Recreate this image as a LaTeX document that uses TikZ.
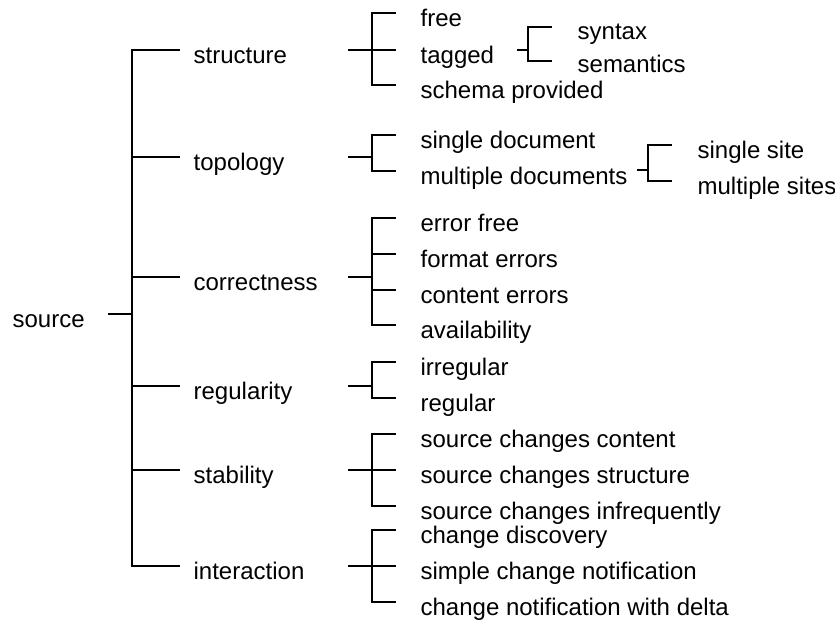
\documentclass[tikz,border=0pt]{standalone}
\usepackage{fontspec}
\setmainfont{Liberation Sans}
\begin{document}
\begin{tikzpicture}[x=1pt, y=-1pt, line width=1.3pt,
    lbl/.style={anchor=west, inner xsep=0pt, inner ysep=0pt, text height=30pt, text depth=4pt, font=\fontsize{24}{28}\selectfont}]
    \useasboundingbox (0,0) rectangle (835,621);
    % root
    \node [lbl] (source) at (12,314) {source};
    \coordinate (s-src) at (108,314);
    \coordinate (j-src) at (132,314);
    \draw (s-src) -- (j-src);
    % first level
    \node [lbl] (structure) at (193,50) {structure};
    \node [lbl] (topology) at (193,157) {topology};
    \node [lbl] (correctness) at (193,277) {correctness};
    \node [lbl] (regularity) at (193,386) {regularity};
    \node [lbl] (stability) at (193,470) {stability};
    \node [lbl] (interaction) at (193,566) {interaction};
    \draw (j-src) |- ([xshift=-13pt]structure.west);
    \draw (j-src) |- ([xshift=-13pt]topology.west);
    \draw (j-src) |- ([xshift=-13pt]correctness.west);
    \draw (j-src) |- ([xshift=-13pt]regularity.west);
    \draw (j-src) |- ([xshift=-13pt]stability.west);
    \draw (j-src) |- ([xshift=-13pt]interaction.west);
    % structure
    \node [lbl] (free) at (420,13) {free};
    \node [lbl] (tagged) at (420,50) {tagged};
    \node [lbl] (schema) at (420,85) {schema provided};
    \coordinate (s-str) at (348,50);
    \coordinate (j-str) at (372,50);
    \draw (s-str) -- (j-str);
    \draw (j-str) |- ([xshift=-24pt]free.west);
    \draw (j-str) |- ([xshift=-24pt]tagged.west);
    \draw (j-str) |- ([xshift=-24pt]schema.west);
    \node [lbl] (syntax) at (577,26) {syntax};
    \node [lbl] (semantics) at (577,59) {semantics};
    \coordinate (s-tag) at (517,50);
    \coordinate (j-tag) at (528,50);
    \draw (s-tag) -- (j-tag);
    \draw (j-tag) |- ([xshift=-25pt,yshift=-1pt]syntax.west);
    \draw (j-tag) |- ([xshift=-25pt,yshift=-2pt]semantics.west);
    % topology
    \node [lbl] (single) at (420,135) {single document};
    \node [lbl] (multiple) at (420,171) {multiple documents};
    \coordinate (s-top) at (348,157);
    \coordinate (j-top) at (372,157);
    \draw (s-top) -- (j-top);
    \draw (j-top) |- ([xshift=-24pt]single.west);
    \draw (j-top) |- ([xshift=-24pt]multiple.west);
    \node [lbl] (site) at (697,145) {single site};
    \node [lbl] (sites) at (697,181) {multiple sites};
    \coordinate (s-mul) at (637,170);
    \coordinate (j-mul) at (648,170);
    \draw (s-mul) -- (j-mul);
    \draw (j-mul) |- ([xshift=-25pt]site.west);
    \draw (j-mul) |- ([xshift=-25pt]sites.west);
    % correctness
    \node [lbl] (errfree) at (420,218) {error free};
    \node [lbl] (format) at (420,254) {format errors};
    \node [lbl] (content) at (420,290) {content errors};
    \node [lbl] (avail) at (420,325) {availability};
    \coordinate (s-cor) at (348,277);
    \coordinate (j-cor) at (372,277);
    \draw (s-cor) -- (j-cor);
    \draw (j-cor) |- ([xshift=-24pt]errfree.west);
    \draw (j-cor) |- ([xshift=-24pt]format.west);
    \draw (j-cor) |- ([xshift=-24pt]content.west);
    \draw (j-cor) |- ([xshift=-24pt]avail.west);
    % regularity
    \node [lbl] (irregular) at (420,362) {irregular};
    \node [lbl] (regular) at (420,398) {regular};
    \coordinate (s-reg) at (348,386);
    \coordinate (j-reg) at (372,386);
    \draw (s-reg) -- (j-reg);
    \draw (j-reg) |- ([xshift=-24pt]irregular.west);
    \draw (j-reg) |- ([xshift=-24pt]regular.west);
    % stability
    \node [lbl] (chcontent) at (420,434) {source changes content};
    \node [lbl] (chstruct) at (420,470) {source changes structure};
    \node [lbl] (chinfreq) at (420,506) {source changes infrequently};
    \coordinate (s-sta) at (348,470);
    \coordinate (j-sta) at (372,470);
    \draw (s-sta) -- (j-sta);
    \draw (j-sta) |- ([xshift=-24pt]chcontent.west);
    \draw (j-sta) |- ([xshift=-24pt]chstruct.west);
    \draw (j-sta) |- ([xshift=-24pt]chinfreq.west);
    % interaction
    \node [lbl] (discovery) at (420,530) {change discovery};
    \node [lbl] (simple) at (420,566) {simple change notification};
    \node [lbl] (delta) at (420,602) {change notification with delta};
    \coordinate (s-int) at (348,566);
    \coordinate (j-int) at (372,566);
    \draw (s-int) -- (j-int);
    \draw (j-int) |- ([xshift=-24pt]discovery.west);
    \draw (j-int) |- ([xshift=-24pt]simple.west);
    \draw (j-int) |- ([xshift=-24pt]delta.west);
\end{tikzpicture}
\end{document}
